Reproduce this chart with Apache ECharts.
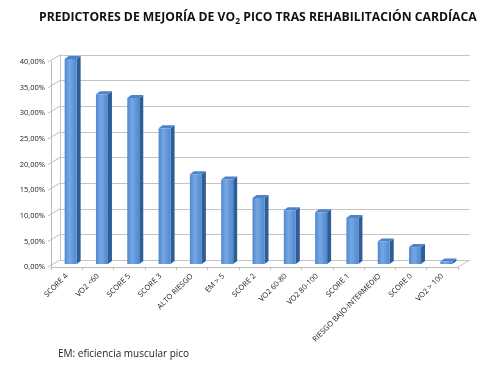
<!DOCTYPE html>
<html>
<head>
<meta charset="utf-8">
<script src="https://cdn.jsdelivr.net/npm/echarts@6/dist/echarts.min.js"></script>
<style>
  html, body { margin: 0; padding: 0; background: #fff; }
  #chart { width: 495px; height: 370px; }
</style>
</head>
<body>
<div id="chart"></div>
<script>
const categories = ['SCORE 4', 'VO2 <60', 'SCORE 5', 'SCORE 3', 'ALTO RIESGO', 'EM > 5', 'SCORE 2',
  'VO2 60-80', 'VO2 80-100', 'SCORE 1', 'RIESGO BAJO-INTERMEDIO', 'SCORE 0', 'VO2 > 100']
const values = [40, 33.1, 32.4, 26.5, 17.5, 16.5, 12.9, 10.5, 10.1, 9.0, 4.4, 3.3, 0.5]
const yTicks = [0, 5, 10, 15, 20, 25, 30, 35, 40]

// profundidad de la pared / de la barra
const wallDx = 9
const wallDy = -7
const barDx = 4
const barDy = -3
const barW = 12

const fmtPct = v => v.toFixed(2).replace('.', ',') + '%'

const chart = echarts.init(document.getElementById('chart'))

const option = {
  backgroundColor: '#fff',
  animation: false,
  title: {
    text: '{a|PREDICTORES DE MEJORÍA DE VO}{s|2}{a| PICO TRAS REHABILITACIÓN CARDÍACA}',
    left: 34,
    top: 5,
    textStyle: {
      rich: {
        a: { fontFamily: 'Open Sans', fontWeight: 'bold', fontSize: 12.2, color: '#111' },
        s: { fontFamily: 'Open Sans', fontWeight: 'bold', fontSize: 8.5, color: '#111', padding: [7, 0, 0, 0] }
      }
    }
  },
  graphic: [
    {
      type: 'text',
      left: 58,
      top: 349,
      style: { text: 'EM: eficiencia muscular pico', font: '10px "Open Sans"', fill: '#222' }
    }
  ],
  grid: [
    // frente (ejes y etiquetas)
    { left: 51, right: 37, top: 62, bottom: 103 },
    // pared del fondo
    { left: 51 + wallDx, right: 37 - 12, top: 62 + wallDy, bottom: 103 - wallDy }
  ],
  xAxis: [
    {
      gridIndex: 0,
      type: 'category',
      data: categories,
      axisLine: { show: true, lineStyle: { color: '#bdbdbd' } },
      axisTick: { show: true, length: 3, lineStyle: { color: '#bdbdbd' } },
      axisLabel: {
        rotate: 45,
        interval: 0,
        margin: 8,
        fontFamily: 'Open Sans',
        fontSize: 7.5,
        color: '#222'
      }
    },
    {
      gridIndex: 1,
      type: 'category',
      data: categories,
      show: false
    }
  ],
  yAxis: [
    {
      gridIndex: 0,
      type: 'value',
      min: 0,
      max: 40,
      interval: 5,
      splitLine: { show: false },
      axisLine: { show: true, lineStyle: { color: '#bdbdbd' } },
      axisTick: { show: false },
      axisLabel: {
        margin: 6,
        fontFamily: 'Open Sans',
        fontSize: 7.5,
        color: '#222',
        formatter: fmtPct
      }
    },
    {
      gridIndex: 1,
      type: 'value',
      min: 0,
      max: 40,
      interval: 5,
      axisLine: { show: true, lineStyle: { color: '#c4c4c4' } },
      axisTick: { show: false },
      axisLabel: { show: false },
      splitLine: { show: true, lineStyle: { color: '#c4c4c4', width: 1 } }
    }
  ],
  series: [
    {
      // pared izquierda: líneas inclinadas
      type: 'custom',
      xAxisIndex: 0,
      yAxisIndex: 0,
      silent: true,
      z: 1,
      data: yTicks.map(v => [0, v]),
      renderItem(params, api) {
        const p = api.coord([0, api.value(1)])
        const x0 = params.coordSys.x
        return {
          type: 'line',
          shape: { x1: x0 - 3, y1: p[1], x2: x0 + wallDx, y2: p[1] + wallDy },
          style: { stroke: '#bdbdbd', lineWidth: 1 }
        }
      }
    },
    {
      // borde derecho del suelo
      type: 'custom',
      xAxisIndex: 0,
      yAxisIndex: 0,
      silent: true,
      z: 1,
      data: [[0, 0]],
      renderItem(params, api) {
        const p = api.coord([0, 0])
        const x1 = params.coordSys.x + params.coordSys.width
        return {
          type: 'line',
          shape: { x1: x1, y1: p[1], x2: x1 + 12, y2: p[1] + wallDy },
          style: { stroke: '#c4c4c4', lineWidth: 1 }
        }
      }
    },
    {
      // barras 3D
      type: 'custom',
      xAxisIndex: 0,
      yAxisIndex: 0,
      z: 5,
      data: values.map((v, i) => [i, v]),
      renderItem(params, api) {
        const top = api.coord([api.value(0), api.value(1)])
        const base = api.coord([api.value(0), 0])
        const cx = top[0] + barDx
        const yt = top[1] + barDy
        const yb = base[1] + barDy
        const l = cx - barW / 2
        const r = cx + barW / 2
        return {
          type: 'group',
          children: [
            {
              type: 'polygon',
              shape: { points: [[r, yt], [r + barDx, yt + barDy], [r + barDx, yb + barDy], [r, yb]] },
              style: { fill: '#2e5e98' }
            },
            {
              type: 'polygon',
              shape: { points: [[l, yt], [l + barDx, yt + barDy], [r + barDx, yt + barDy], [r, yt]] },
              style: { fill: '#4f83c6' }
            },
            {
              type: 'rect',
              shape: { x: l, y: yt, width: barW, height: yb - yt },
              style: {
                fill: new echarts.graphic.LinearGradient(0, 0, 1, 0, [
                  { offset: 0, color: '#5088cf' },
                  { offset: 0.4, color: '#76a7e4' },
                  { offset: 1, color: '#5088cf' }
                ])
              }
            }
          ]
        }
      }
    }
  ]
}

chart.setOption(option)
</script>
</body>
</html>
